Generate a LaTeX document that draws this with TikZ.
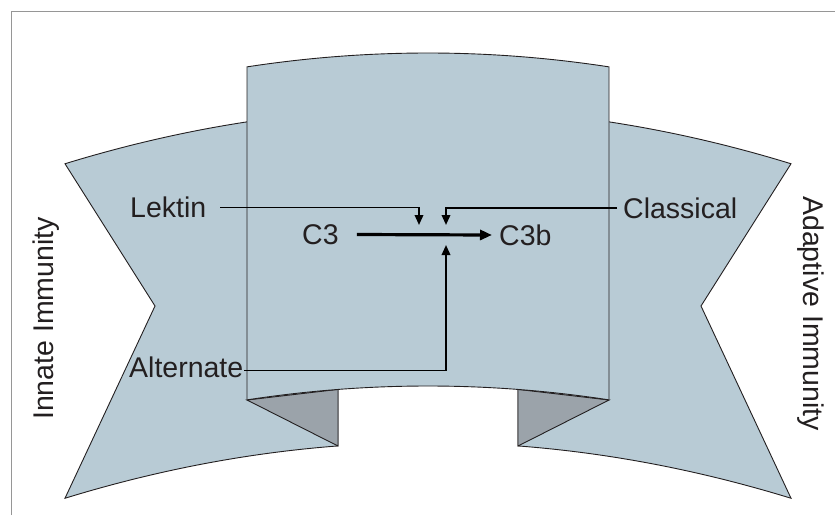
\documentclass[tikz,border=0pt]{standalone}
\usepackage{fontspec}
\setmainfont{Liberation Sans}
\usetikzlibrary{arrows.meta}
\definecolor{bandfill}{RGB}{184,203,213}
\definecolor{foldfill}{RGB}{155,163,170}
\definecolor{edge}{RGB}{35,31,32}
\definecolor{framegray}{RGB}{150,150,150}
\tikzset{
  band/.style={fill=bandfill, draw=edge, line width=0.9pt, line join=miter},
  fold/.style={fill=foldfill, draw=edge, line width=0.9pt},
  lbl/.style={inner sep=0pt, text=edge, font=\fontsize{28.5}{33}\selectfont},
  conn/.style={draw=black, line width=1.9pt, -{Triangle[length=10pt,width=8.5pt]}},
  mainarrow/.style={draw=black, line width=3.2pt, -{Triangle[length=12pt,width=10pt]}},
}
\begin{document}
\begin{tikzpicture}[x=1pt,y=-1pt]
\useasboundingbox (0,0) rectangle (835,515);
% frame
\draw[framegray, line width=1pt] (11,515) -- (11,11) -- (835,11);
% left banner
\path[band] (155,306)
  -- plot[domain=65:338,samples=60] (\x,{108+((\x-428)*0.020567)^2})
  -- plot[domain=338:65,samples=60] (\x,{442.5+((\x-428)*0.020567)^2})
  -- cycle;
% right banner
\path[band] (701,306)
  -- plot[domain=791:518,samples=60] (\x,{108+((\x-428)*0.020567)^2})
  -- plot[domain=518:791,samples=60] (\x,{442.5+((\x-428)*0.020567)^2})
  -- cycle;
% folds
\path[fold] (247,400) -- (338,389.4) -- (338,446) -- cycle;
\path[fold] (609,400) -- (518,389.4) -- (518,446) -- cycle;
% main panel
\path[band] (247,400) -- (247,67)
  -- plot[domain=247:609,samples=80] (\x,{53+((\x-428)*0.020567)^2})
  -- plot[domain=609:247,samples=80] (\x,{386+((\x-428)*0.020567)^2})
  -- cycle;
% labels
\node[lbl, anchor=west] (lektin) at (130,207.5) {Lektin};
\node[lbl, anchor=west] (classical) at (623,208) {Classical};
\node[lbl, anchor=west] (alternate) at (129,367.5) {Alternate};
\node[lbl, anchor=west] (c3) at (302,234.5) {C3};
\node[lbl, anchor=west] (c3b) at (499,235) {C3b};
\node[lbl, anchor=base, rotate=90] (innate) at (53,318.5) {Innate Immunity};
\node[lbl, anchor=base, rotate=-90] (adaptive) at (803,313.5) {Adaptive Immunity};
% connector targets
\coordinate (tipL) at (419,225);
\coordinate (tipC) at (446,225);
\coordinate (tipA) at (446,245);
% connectors
\draw[conn] ([xshift=14pt]lektin.east) -| (tipL);
\draw[conn] ([xshift=-6pt]classical.west) -| (tipC);
\draw[conn] ([xshift=1pt,yshift=-3pt]alternate.east) -| (tipA);
\draw[mainarrow] ([xshift=18pt]c3.east) -- ([xshift=-7pt]c3b.west);
\end{tikzpicture}
\end{document}
